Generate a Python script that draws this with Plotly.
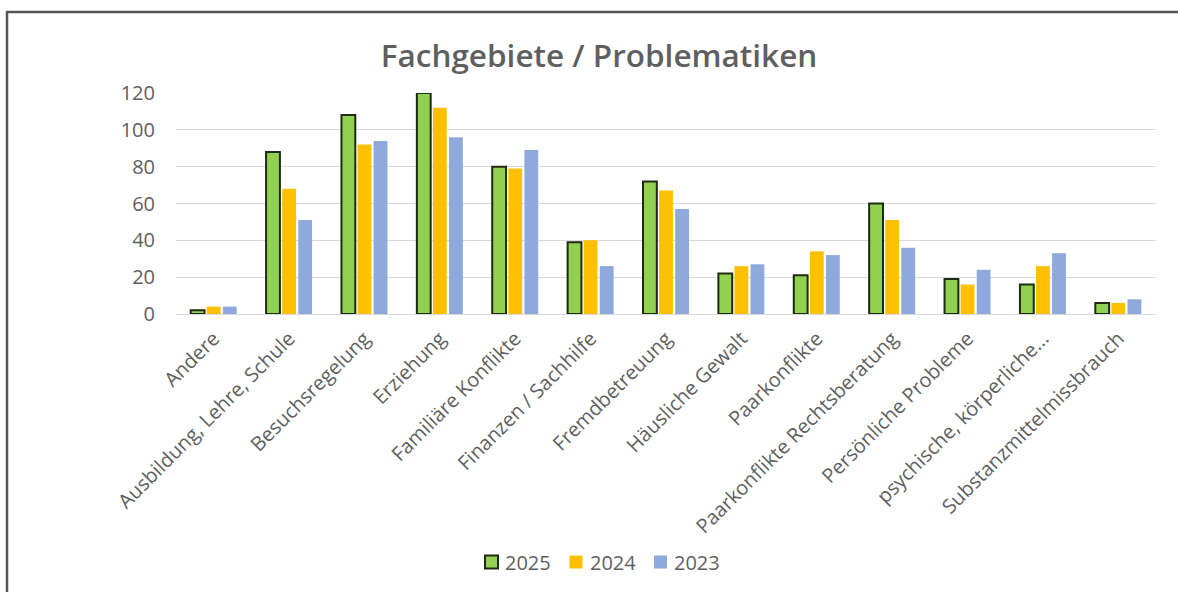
import plotly.graph_objects as go

categories = ["Andere", "Ausbildung, Lehre, Schule", "Besuchsregelung", "Erziehung",
              "Familiäre Konflikte", "Finanzen / Sachhilfe", "Fremdbetreuung",
              "Häusliche Gewalt", "Paarkonflikte", "Paarkonflikte Rechtsberatung",
              "Persönliche Probleme", "psychische, körperliche...", "Substanzmittelmissbrauch"]
years = ["2025", "2024", "2023"]
v2025 = [2, 88, 108, 120, 80, 39, 72, 22, 21, 60, 19, 16, 6]
v2024 = [4, 68, 92, 112, 79, 40, 67, 26, 34, 51, 16, 26, 6]
v2023 = [4, 51, 94, 96, 89, 26, 57, 27, 32, 36, 24, 33, 8]
y_ticks = [0, 20, 40, 60, 80, 100, 120]

L, R, T, B = 176, 22, 93, 278
W, H = 1178, 592
pw, ph = W - L - R, H - T - B

FONT = "Open Sans"
GRAY = "#5f5f5f"
colors = ["#92D050", "#FFC000", "#8EA9DB"]
outlines = [dict(color="#1E2B12", width=2), dict(width=0), dict(width=0)]

fig = go.Figure()
for name, vals, col, ol in zip(years, [v2025, v2024, v2023], colors, outlines):
    fig.add_trace(go.Bar(name=name, x=categories, y=vals, showlegend=False,
                         marker=dict(color=col, line=ol)))

def px_x(x):
    return (x - L) / pw

def px_y(y):
    return 1 - (y - T) / ph

shapes = [dict(type="rect", xref="paper", yref="paper",
               x0=px_x(7), x1=px_x(W + 10), y0=px_y(H + 10), y1=px_y(12),
               line=dict(color="#555555", width=2.5), fillcolor="rgba(0,0,0,0)",
               layer="below")]
annotations = []
# custom legend (symbol square + label), laid out like the reference
leg_x0, leg_pitch, sq, leg_yc = 485, 84.5, 13, 562
for i, (name, col, ol) in enumerate(zip(years, colors, outlines)):
    x0 = leg_x0 + i * leg_pitch
    shapes.append(dict(type="rect", xref="paper", yref="paper",
                       x0=px_x(x0), x1=px_x(x0 + sq),
                       y0=px_y(leg_yc + sq / 2), y1=px_y(leg_yc - sq / 2),
                       fillcolor=col,
                       line=dict(color=ol.get("color", col), width=ol["width"] or 0)))
    annotations.append(dict(xref="paper", yref="paper", x=px_x(x0 + sq + 5),
                            y=px_y(leg_yc), xanchor="left", yanchor="middle",
                            text=name, showarrow=False,
                            font=dict(family=FONT, size=20, color=GRAY)))

fig.update_layout(
    width=W, height=H,
    margin=dict(l=L, r=R, t=T, b=B, pad=0, autoexpand=False),
    paper_bgcolor="white", plot_bgcolor="white",
    barmode="group", bargap=0.36, bargroupgap=0.14,
    font=dict(family=FONT, color=GRAY, size=19),
    title=dict(text="Fachgebiete / Problematiken", x=599 / W, xanchor="center",
               y=1 - 56 / H, yanchor="middle",
               font=dict(family=FONT, size=31.5, color=GRAY, weight=600)),
    xaxis=dict(tickangle=-45, tickfont=dict(size=20, color=GRAY), showgrid=False,
               showline=True, linecolor="#D9D9D9", linewidth=1, ticks="",
               automargin=False, ticklabelstandoff=4),
    yaxis=dict(range=[0, 120], tickvals=y_ticks, showgrid=True, gridcolor="#D9D9D9",
               gridwidth=1, zeroline=False, tickfont=dict(size=20, color=GRAY),
               ticks="", showline=False, automargin=False, ticklabelstandoff=20),
    showlegend=False,
    shapes=shapes,
    annotations=annotations,
)

fig.write_html("out.html", config={"displayModeBar": False},
               post_script="document.body.style.margin='0px';")
